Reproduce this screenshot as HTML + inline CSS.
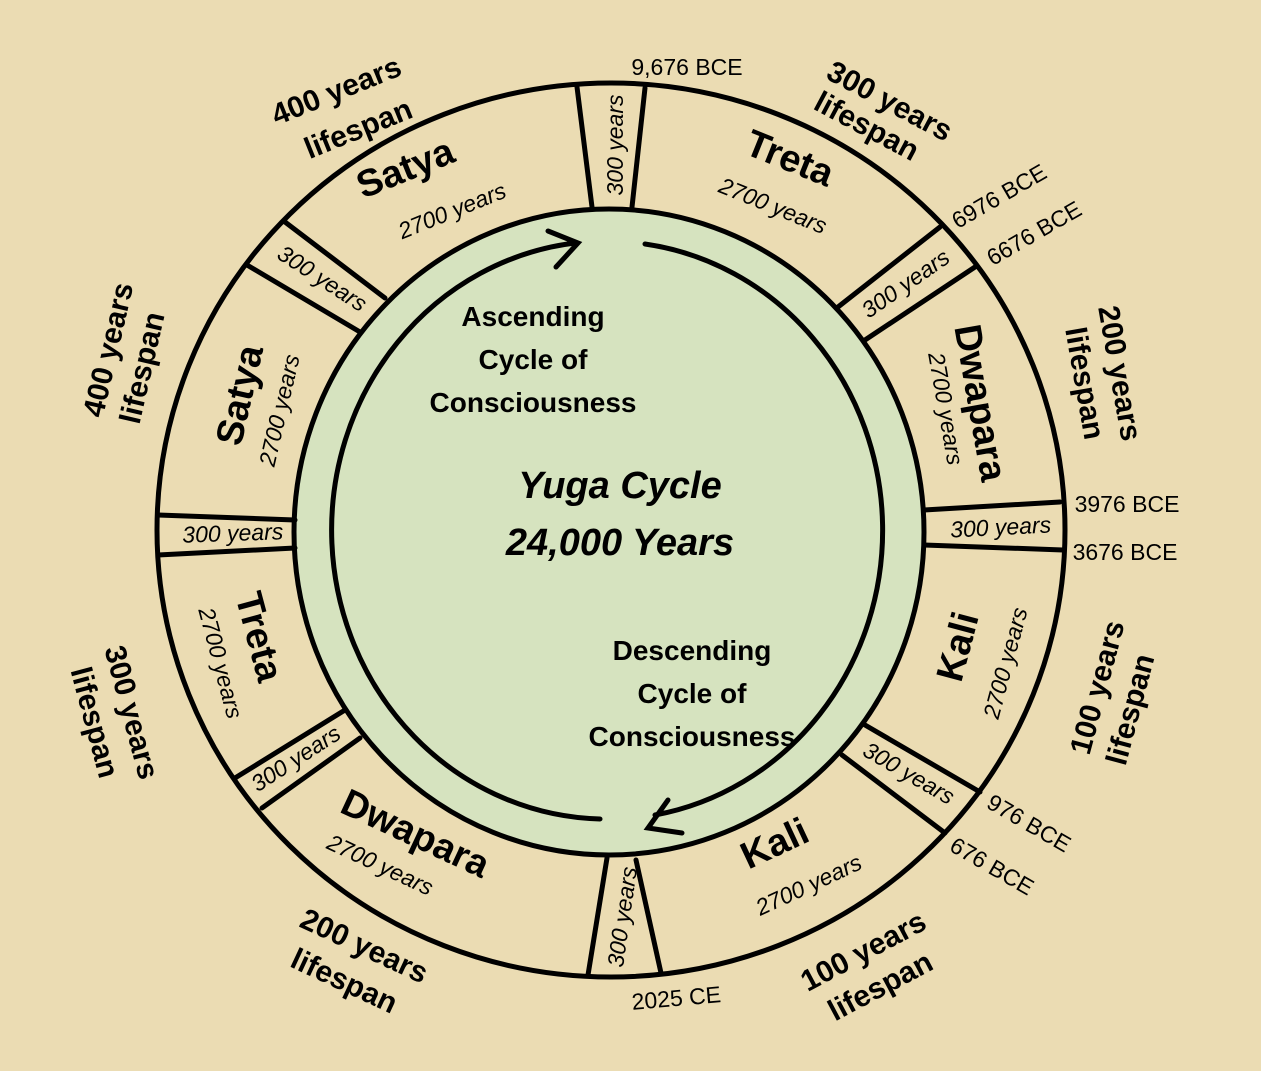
<!DOCTYPE html>
<html><head><meta charset="utf-8"><style>
html,body{margin:0;padding:0;background:#ebdcb3;}
svg{display:block;font-family:"Liberation Sans","DejaVu Sans",sans-serif;}
.b{font-weight:bold;}
.i{font-style:italic;}
</style></head><body>
<svg width="1261" height="1071" viewBox="0 0 1261 1071">
<rect width="1261" height="1071" fill="#ebdcb3"/>
<ellipse cx="611" cy="530" rx="454" ry="447" fill="none" stroke="#000" stroke-width="5"/>
<ellipse cx="609" cy="532" rx="315" ry="323" fill="#d6e3bf" stroke="#000" stroke-width="5"/>
<g stroke="#000" stroke-width="5" fill="none" stroke-linecap="round">
<line x1="577" y1="87" x2="592" y2="207"/><line x1="645" y1="88" x2="632" y2="207"/>
<line x1="940" y1="227" x2="838" y2="307"/><line x1="975" y1="267" x2="865" y2="340"/>
<line x1="1060" y1="502" x2="924" y2="510"/><line x1="1063" y1="550" x2="924" y2="545"/>
<line x1="980" y1="792" x2="865" y2="725"/><line x1="945" y1="833" x2="842" y2="755"/>
<line x1="607" y1="858" x2="588" y2="975"/><line x1="636" y1="860" x2="661" y2="973"/>
<line x1="235" y1="778" x2="345" y2="710"/><line x1="262" y1="808" x2="360" y2="738"/>
<line x1="158" y1="515" x2="295" y2="520"/><line x1="158" y1="555" x2="295" y2="548"/>
<line x1="285" y1="222" x2="385" y2="298"/><line x1="247" y1="265" x2="360" y2="332"/>
<path d="M600 819 A275 289 0 0 1 575 243"/>
<path d="M548 231 L578 243 L556 267"/>
<path d="M645 244 A275 289 0 0 1 655 815"/>
<path d="M668 800 L648 828 L682 833"/>
</g>
<g fill="#000">
<text class="b i" x="620" y="498" font-size="38" text-anchor="middle">Yuga Cycle</text>
<text class="b i" x="620" y="555" font-size="38" text-anchor="middle">24,000 Years</text>
<g class="b" font-size="28" text-anchor="middle">
<text x="533" y="326">Ascending</text><text x="533" y="369">Cycle of</text><text x="533" y="412">Consciousness</text>
<text x="692" y="660">Descending</text><text x="692" y="703">Cycle of</text><text x="692" y="746">Consciousness</text>
</g>
<g font-size="23" class="i" text-anchor="middle">
<text transform="translate(623,145) rotate(-90)">300 years</text>
<text transform="translate(910,290) rotate(-35)">300 years</text>
<text transform="translate(1001,535) rotate(-3)">300 years</text>
<text transform="translate(905,780) rotate(30)">300 years</text>
<text transform="translate(630,918) rotate(-82)">300 years</text>
<text transform="translate(300,765) rotate(-33)">300 years</text>
<text transform="translate(233,541) rotate(-2)">300 years</text>
<text transform="translate(318,285) rotate(33)">300 years</text>
</g>
<g font-size="23" class="i" text-anchor="middle">
<text transform="translate(455,218) rotate(-22)">2700 years</text>
<text transform="translate(770,213) rotate(22)">2700 years</text>
<text transform="translate(938,410) rotate(80)">2700 years</text>
<text transform="translate(1013,665) rotate(-75)">2700 years</text>
<text transform="translate(812,892) rotate(-25)">2700 years</text>
<text transform="translate(377,872) rotate(25)">2700 years</text>
<text transform="translate(213,665) rotate(75)">2700 years</text>
<text transform="translate(287,412) rotate(-77)">2700 years</text>
</g>
<g font-size="38" class="b" text-anchor="middle">
<text transform="translate(410,180) rotate(-22)">Satya</text>
<text transform="translate(785,170) rotate(22)">Treta</text>
<text transform="translate(968,405) rotate(80)">Dwapara</text>
<text transform="translate(970,650) rotate(-75)">Kali</text>
<text transform="translate(780,855) rotate(-25)">Kali</text>
<text transform="translate(410,845) rotate(25)">Dwapara</text>
<text transform="translate(247,640) rotate(75)">Treta</text>
<text transform="translate(252,398) rotate(-77)">Satya</text>
</g>
<g font-size="30" class="b" text-anchor="middle">
<text transform="translate(340,100) rotate(-22)">400 years</text>
<text transform="translate(362,138) rotate(-22)">lifespan</text>
<text transform="translate(885,110) rotate(28)">300 years</text>
<text transform="translate(862,135) rotate(28)">lifespan</text>
<text transform="translate(1110,375) rotate(80)">200 years</text>
<text transform="translate(1075,385) rotate(80)">lifespan</text>
<text transform="translate(1107,690) rotate(-75)">100 years</text>
<text transform="translate(1140,712) rotate(-75)">lifespan</text>
<text transform="translate(868,960) rotate(-28)">100 years</text>
<text transform="translate(885,995) rotate(-28)">lifespan</text>
<text transform="translate(360,955) rotate(25)">200 years</text>
<text transform="translate(340,990) rotate(25)">lifespan</text>
<text transform="translate(122,715) rotate(75)">300 years</text>
<text transform="translate(85,725) rotate(75)">lifespan</text>
<text transform="translate(118,352) rotate(-77)">400 years</text>
<text transform="translate(152,370) rotate(-77)">lifespan</text>
</g>
<g font-size="23" text-anchor="middle">
<text x="687" y="75">9,676 BCE</text>
<text transform="translate(1003,203) rotate(-30)">6976 BCE</text>
<text transform="translate(1038,240) rotate(-30)">6676 BCE</text>
<text x="1127" y="512">3976 BCE</text>
<text x="1125" y="560">3676 BCE</text>
<text transform="translate(1025,830) rotate(30)">976 BCE</text>
<text transform="translate(988,873) rotate(30)">676 BCE</text>
<text transform="translate(677,1006) rotate(-5)">2025 CE</text>
</g>
</g>
</svg>
</body></html>
